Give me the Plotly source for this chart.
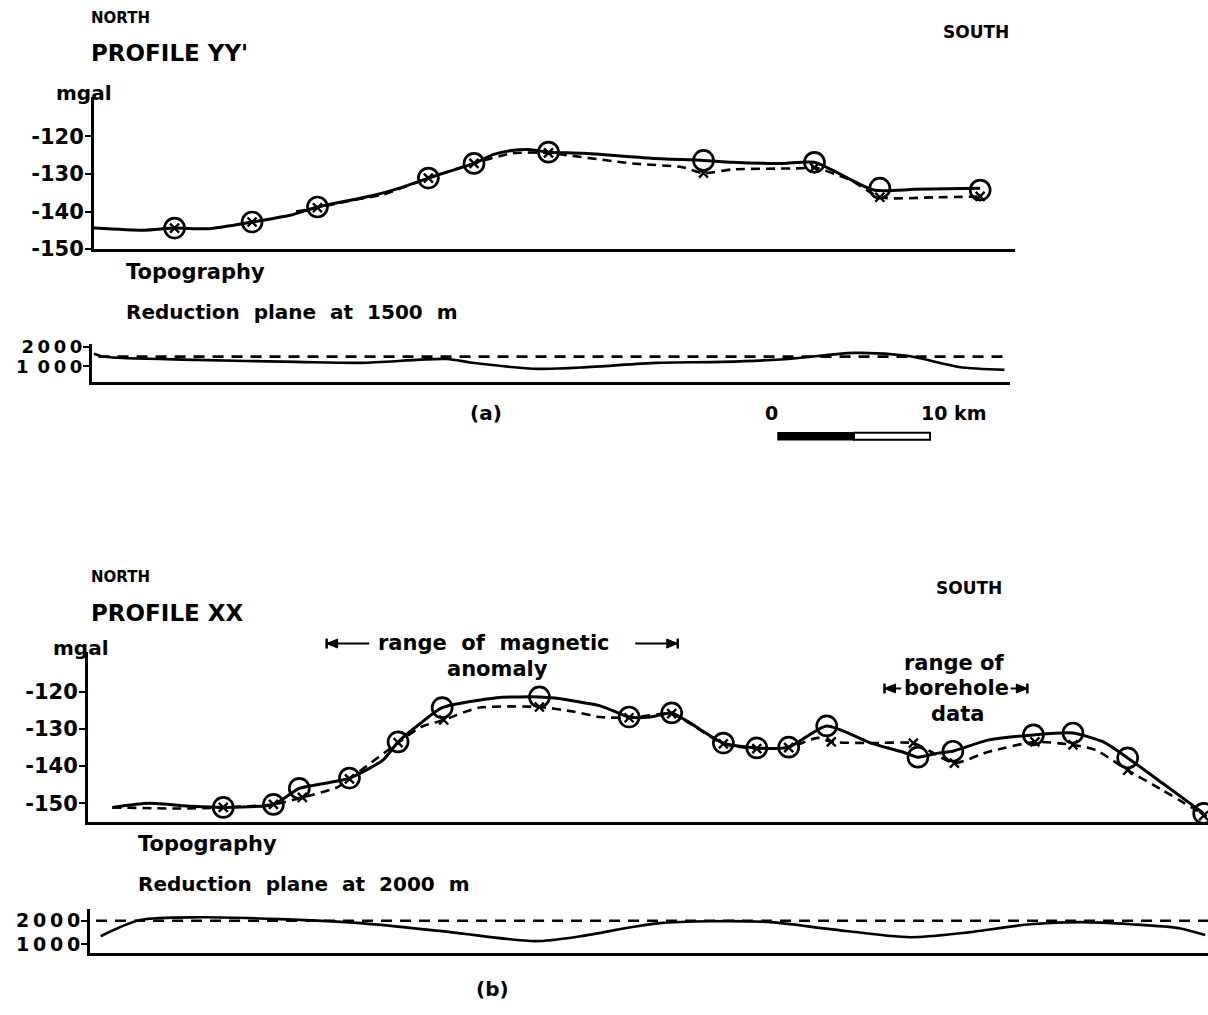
import plotly.graph_objects as go

W, H = 1208, 1015

# ---------------- Profile YY' (a) ----------------
# gravity curves: distance along profile (km) and Bouguer anomaly (mgal)
ya_solid_km = [0, 3.3, 5.3, 7.5, 10.4, 12.9, 14.7, 18.5, 20.3, 22.0, 23.0, 25.0, 26.3, 27.6, 28.6, 29.9,
               32.2, 36.6, 40.1, 42.0, 45.3, 47.4, 51.3, 54.0, 58.3]
ya_solid_mgal = [-144.4, -145.0, -144.4, -144.6, -142.8, -141.0, -138.8, -135.6, -133.5, -131.1, -129.8,
                 -127.2, -124.8, -123.7, -123.5, -124.2, -124.5, -125.8, -126.4, -126.9, -127.2, -126.9,
                 -134.3, -134.1, -133.8]
ya_dash_km = [13.3, 14.7, 17.0, 19.0, 22.0, 25.0, 27.5, 29.9, 31.1, 35.4, 38.7, 40.1, 42.0, 46.5, 47.4,
              49.8, 51.7, 55.5, 58.5]
ya_dash_mgal = [-140.0, -139.0, -137.0, -135.5, -131.1, -127.2, -124.5, -124.4, -125.0, -127.2, -128.2,
                -129.8, -128.8, -128.5, -128.3, -131.7, -136.2, -136.2, -136.0]
ya_station_km = [5.3, 10.4, 14.7, 22.0, 25.0, 29.9, 40.1, 47.4, 51.7, 58.3]
ya_circle_mgal = [-144.4, -142.8, -138.8, -131.1, -127.2, -124.2, -126.4, -126.9, -133.8, -134.3]
ya_cross_mgal = [-144.4, -142.8, -139.0, -131.1, -127.2, -124.4, -129.8, -128.3, -136.2, -136.0]

# topography (m) and reduction plane
ya_topo_km = [0, 0.7, 6.8, 13.3, 17.6, 23.2, 24.9, 29.3, 32.7, 37.0, 41.4, 45.7, 50.0, 53.5, 56.9, 59.9]
ya_topo_m = [1650, 1490, 1330, 1230, 1180, 1380, 1180, 870, 970, 1180, 1230, 1380, 1690, 1540, 970, 820]
ya_plane_km = [0.3, 60.0]
ya_plane_m = [1500, 1500]

# ---------------- Profile XX (b) ----------------
xb_solid_km = [1.6, 4.0, 6.8, 8.9, 12.2, 13.9, 15.6, 17.2, 19.4, 20.4, 21.9, 23.3, 26.9, 29.7, 30.7, 33.7,
               35.6, 37.0, 38.4, 39.5, 41.8, 44.0, 46.1, 48.6, 51.5, 53.6, 54.6, 55.9, 56.9, 59.2, 62.2,
               64.8, 66.8, 68.4, 70.7, 73.4]
xb_solid_mgal = [-151.1, -150.0, -150.8, -151.1, -150.3, -146.0, -144.6, -143.2, -138.4, -133.5, -128.4,
                 -124.3, -121.6, -121.4, -121.7, -123.8, -126.8, -126.8, -125.7, -128.1, -133.8, -135.1,
                 -134.9, -129.2, -133.8, -136.2, -137.6, -136.5, -136.0, -133.0, -131.6, -131.1, -133.5,
                 -137.8, -144.6, -152.7]
xb_dash_km = [1.6, 6.1, 8.9, 12.2, 14.1, 16.4, 17.2, 20.4, 21.9, 23.4, 25.7, 29.7, 32.0, 33.7, 35.6, 38.4,
              39.5, 41.8, 44.0, 46.1, 48.0, 48.9, 51.5, 54.3, 55.4, 57.0, 59.2, 62.3, 64.8, 66.3, 68.4,
              70.7, 73.6]
xb_dash_mgal = [-151.1, -151.4, -151.1, -150.3, -148.4, -145.7, -143.4, -133.7, -129.5, -127.6, -124.3,
                -124.1, -125.4, -126.8, -127.0, -125.9, -128.3, -134.0, -135.3, -135.0, -132.4, -133.5,
                -133.8, -133.8, -136.0, -139.2, -136.2, -133.5, -134.3, -135.7, -141.1, -146.5, -153.5]
xb_station_km = [8.9, 12.2, 13.9, 17.2, 20.4, 23.3, 29.7, 35.6, 38.4, 41.8, 44.0, 46.1, 48.6, 54.6, 56.9,
                 62.2, 64.8, 68.4, 73.4]
xb_circle_mgal = [-151.1, -150.3, -146.0, -143.2, -133.5, -124.3, -121.4, -126.8, -125.7, -133.8, -135.1,
                  -134.9, -129.2, -137.6, -136.0, -131.6, -131.1, -137.8, -152.7]
xb_cross_km = [8.9, 12.2, 14.1, 17.2, 20.4, 23.4, 29.7, 35.6, 38.4, 41.8, 44.0, 46.1, 48.9, 54.3, 57.0,
               62.3, 64.8, 68.4, 73.4]
xb_cross_mgal = [-151.1, -150.3, -148.4, -143.4, -133.7, -127.6, -124.1, -127.0, -125.9, -134.0, -135.3,
                 -135.0, -133.5, -133.8, -139.2, -133.5, -134.3, -141.1, -153.3]

xb_topo_km = [0.8, 3.4, 7.4, 12.6, 17.9, 23.8, 29.4, 32.4, 35.7, 37.6, 40.9, 44.9, 48.8, 54.1, 57.4, 62.0,
              65.3, 68.6, 71.8, 73.5]
xb_topo_m = [1330, 2030, 2150, 2070, 1900, 1510, 1120, 1330, 1720, 1900, 1980, 1940, 1640, 1290, 1460,
             1850, 1940, 1850, 1680, 1380]
xb_plane_km = [0.5, 73.7]
xb_plane_m = [2000, 2000]

# ranges marked above profile XX (km)
magnetic_range_km = [15.7, 38.8]
borehole_range_km = [52.4, 61.8]

# scale bar (km), placed under profile YY'
scale_bar_km = [0, 5, 10]
scale_bar_origin_km = 45.0

gravity_ticks = [-120, -130, -140, -150]
gravity_ticktext = ["-120", "-130", "-140", "-150"]
topo_ticks = [2000, 1000]

FONT = "DejaVu Sans"
INK = "black"
SP = "\u00a0\u00a0"      # wide word gap
TH = "\u2009"            # thin gap between digits
KM_PX = 15.2             # drawing scale, pixels per km


def px(x):
    return x / W


def py(y):
    # page row -> paper fraction (page rows measured on the finished sheet)
    return 1 - ((y - 7.6) / 0.9816) / H


fig = go.Figure()

solid = dict(color=INK, width=3)
dashed = dict(color=INK, width=2.6, dash="9px,6px")


def gravity_traces(xa, ya, skm, smg, dkm, dmg, ckm, cmg, ckm2, cmg2):
    fig.add_trace(go.Scatter(x=dkm, y=dmg, mode="lines", line=dict(**dashed, shape="spline", smoothing=0.6),
                             xaxis=xa, yaxis=ya, showlegend=False))
    fig.add_trace(go.Scatter(x=skm, y=smg, mode="lines", line=dict(**solid, shape="spline", smoothing=0.6),
                             xaxis=xa, yaxis=ya, showlegend=False))
    fig.add_trace(go.Scatter(x=ckm2, y=cmg2, mode="markers",
                             marker=dict(symbol="x-thin-open", size=9, color=INK,
                                         line=dict(color=INK, width=2.4)),
                             xaxis=xa, yaxis=ya, showlegend=False))
    fig.add_trace(go.Scatter(x=ckm, y=cmg, mode="markers",
                             marker=dict(symbol="circle-open", size=20, color=INK,
                                         line=dict(color=INK, width=2.7)),
                             xaxis=xa, yaxis=ya, showlegend=False, cliponaxis=False))


gravity_traces("x", "y", ya_solid_km, ya_solid_mgal, ya_dash_km, ya_dash_mgal,
               ya_station_km, ya_circle_mgal, ya_station_km, ya_cross_mgal)
gravity_traces("x3", "y3", xb_solid_km, xb_solid_mgal, xb_dash_km, xb_dash_mgal,
               xb_station_km, xb_circle_mgal, xb_cross_km, xb_cross_mgal)

for xa, ya, tk, tm, pk, pm in [("x2", "y2", ya_topo_km, ya_topo_m, ya_plane_km, ya_plane_m),
                               ("x4", "y4", xb_topo_km, xb_topo_m, xb_plane_km, xb_plane_m)]:
    fig.add_trace(go.Scatter(x=pk, y=pm, mode="lines", line=dict(color=INK, width=2.6, dash="11px,8px"),
                             xaxis=xa, yaxis=ya, showlegend=False))
    fig.add_trace(go.Scatter(x=tk, y=tm, mode="lines",
                             line=dict(color=INK, width=2.6, shape="spline", smoothing=0.8),
                             xaxis=xa, yaxis=ya, showlegend=False))


def xaxis(dom, rng):
    return dict(domain=[px(dom[0]), px(dom[1])], range=rng, showline=True, linewidth=3, linecolor=INK,
                showticklabels=False, ticks="", showgrid=False, zeroline=False)


def yaxis(dom, rng, tv, tt, anchor, size):
    return dict(domain=[py(dom[1]), py(dom[0])], range=rng, showline=True, linewidth=3, linecolor=INK,
                tickvals=tv, ticktext=tt, ticks="outside", ticklen=6, tickwidth=2, tickcolor=INK,
                ticklabelstandoff=-3,
                tickfont=dict(family=FONT, size=size, color=INK, weight="bold"),
                showgrid=False, zeroline=False, anchor=anchor)


fig.update_layout(
    width=W, height=H, margin=dict(l=0, r=0, t=0, b=0),
    paper_bgcolor="white", plot_bgcolor="rgba(0,0,0,0)",
    xaxis=dict(**xaxis((94, 1015), [0, 921 / KM_PX]), anchor="y"),
    yaxis=yaxis((97, 249), [-150, -109.6], gravity_ticks, gravity_ticktext, "x", 21),
    xaxis2=dict(**xaxis((92, 1010), [-0.13, 916 / KM_PX]), anchor="y2"),
    yaxis2=yaxis((344, 382), [200, 2150], topo_ticks,
                 [TH.join("2000"), "1\u2002" + TH.join("000")], "x2", 18),
    xaxis3=dict(**xaxis((88, 1208), [0, 1120 / KM_PX]), anchor="y3"),
    yaxis3=yaxis((652, 823), [-155.1, -109.2], gravity_ticks, gravity_ticktext, "x3", 21),
    xaxis4=dict(**xaxis((90, 1208), [0.1, 1120 / KM_PX]), anchor="y4"),
    yaxis4=yaxis((910, 954), [600, 2500], topo_ticks, [TH.join("2000"), TH.join("1000")], "x4", 19),
)

annotations = []


def label(text, x, y, size=18, anchor="left"):
    annotations.append(dict(text=text, x=px(x), y=py(y), xref="paper", yref="paper", showarrow=False,
                            xanchor=anchor, yanchor="middle",
                            font=dict(family=FONT, size=size, color=INK, weight="bold")))


# profile (a) headings
label("NORTH", 89, 18, 15)
label("PROFILE YY'", 89, 53, 23)
label("SOUTH", 941, 32, 17)
label("mgal", 54, 93, 20)
label("Topography", 124, 272, 21)
label(SP.join(["Reduction", "plane", "at", "1500", "m"]), 124, 312, 20)
label("(a)", 486, 413, 20, anchor="center")
label("0", 771, 413, 19, anchor="center")
label("10 km", 919, 413, 19)

# profile (b) headings
label("NORTH", 89, 577, 15)
label("PROFILE XX", 89, 613, 23)
label("SOUTH", 934, 588, 17)
label("mgal", 51, 648, 20)
label(SP.join(["range", "of", "magnetic"]), 494, 643, 21, anchor="center")
label("anomaly", 497, 669, 21, anchor="center")
label("range of", 954, 663, 21, anchor="center")
label("borehole", 956, 689, 21, anchor="center")
label("data", 957, 715, 21, anchor="center")
label("Topography", 136, 845, 21)
label(SP.join(["Reduction", "plane", "at", "2000", "m"]), 136, 885, 20)
label("(b)", 492, 990, 20, anchor="center")

shapes = []


def range_marker(rng, y, inner_len_km):
    # arrows pointing outwards to end bars at both ends of a range
    lo, hi = rng
    head = 11 / KM_PX
    for end, tail, sgn in [(lo, lo + inner_len_km, 1), (hi, hi - inner_len_km, -1)]:
        shapes.append(dict(type="line", xref="x3", yref="paper", x0=end, x1=tail,
                           y0=py(y), y1=py(y), line=dict(color=INK, width=2)))
        shapes.append(dict(type="path", xref="x3", yref="paper",
                           path=f"M {end},{py(y)} L {end + sgn * head},{py(y - 4.5)} "
                                f"L {end + sgn * head},{py(y + 4.5)} Z",
                           fillcolor=INK, line=dict(color=INK, width=1)))
        shapes.append(dict(type="line", xref="x3", yref="paper", x0=end, x1=end,
                           y0=py(y - 5), y1=py(y + 5), line=dict(color=INK, width=2.5)))


range_marker(magnetic_range_km, 644, 2.8)
range_marker(borehole_range_km, 689, 1.1)

# scale bar: black first half, open second half
x0 = scale_bar_origin_km + scale_bar_km[0]
xm = scale_bar_origin_km + scale_bar_km[1]
x1 = scale_bar_origin_km + scale_bar_km[2]
shapes.append(dict(type="rect", xref="x", yref="paper", x0=x0, x1=xm, y0=py(440), y1=py(433),
                   fillcolor=INK, line=dict(color=INK, width=1.5)))
shapes.append(dict(type="rect", xref="x", yref="paper", x0=xm, x1=x1, y0=py(440), y1=py(433),
                   fillcolor="white", line=dict(color=INK, width=2)))

fig.update_layout(annotations=annotations, shapes=shapes)

fig.write_html("out.html")
